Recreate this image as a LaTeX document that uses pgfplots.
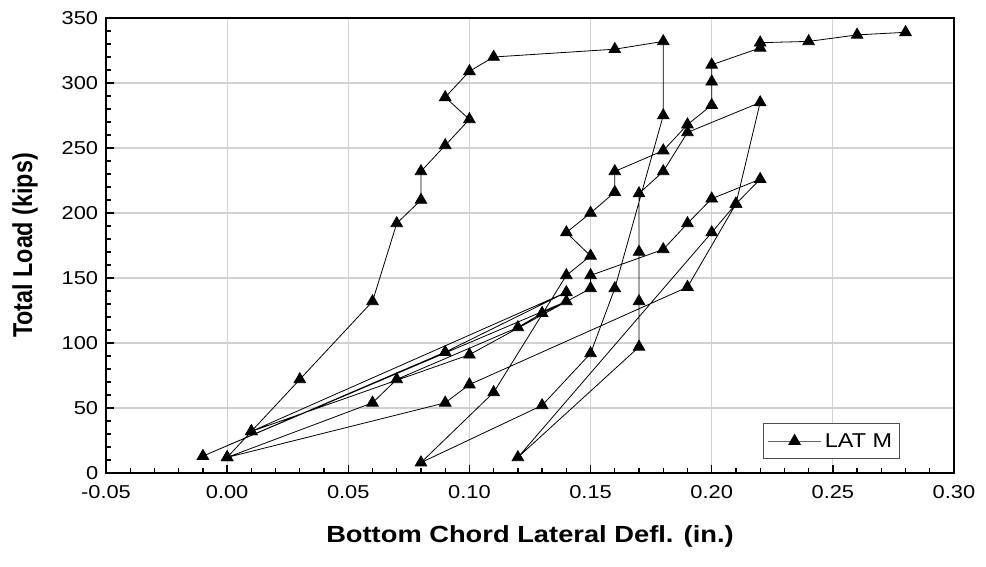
\documentclass[border=0pt]{standalone}
\usepackage{fontspec}
\setmainfont{Liberation Sans}
\usepackage{pgfplots}
\pgfplotsset{compat=1.18}
\begin{document}
\begin{tikzpicture}
\begin{axis}[
  scale only axis,
  width=636pt, height=341.25pt,
  xmin=-0.05, xmax=0.30, ymin=0, ymax=350,
  xtick={-0.05,0,0.05,0.1,0.15,0.2,0.25,0.3},
  ytick={0,50,...,350},
  minor x tick num=4, minor y tick num=4,
  grid=major, grid style={black!18, line width=0.9pt},
  axis line style={line width=1.6pt},
  tick style={black, line width=1pt},
  major tick length=6pt, minor tick length=3.5pt,
  tick align=inside,
  xtick pos=bottom, ytick pos=left,
  /pgf/number format/assume math mode=true,
  ticklabel style={font=\fontsize{14}{16}\selectfont, xscale=1.17},
  xticklabel style={yshift=-6pt, /pgf/number format/.cd, fixed, fixed zerofill, precision=2},
  yticklabel style={xshift=-1.5pt},
  xlabel={Bottom Chord Lateral Defl. (in.)},
  ylabel={Total Load (kips)},
  every axis x label/.style={at={(axis description cs:0.5,-0.14)}, anchor=center, xscale=1.17,
    font=\bfseries\fontsize{17.5}{20}\selectfont},
  every axis y label/.style={at={(axis description cs:-0.0955,0.5)}, anchor=center, xscale=1.17, rotate=90,
    font=\bfseries\fontsize{17.5}{20}\selectfont},
  legend style={at={(0.936,0.031)}, anchor=south east, draw=black!70, line width=0.8pt,
    font=\fontsize{15}{17}\selectfont, inner xsep=3pt, inner ysep=5pt,
    nodes={xscale=1.17, inner xsep=2pt}},
  legend image code/.code={%
    \draw[#1, black!60, line width=0.8pt, mark=none] (0pt,0pt) -- (40pt,0pt);
    \fill[black] (20pt,0pt) +(90:5pt) -- +(210:5pt) -- +(330:5pt) -- cycle;},
]
\addplot[black, line width=0.6pt, mark=triangle*, mark size=5pt, mark options={fill=black, solid}]
coordinates {
(0.00,12) (0.06,54) (0.07,72) (0.12,112) (0.13,123) (0.14,132)
(-0.01,13) (0.09,93) (0.14,139) (0.01,32) (0.10,91) (0.15,142)
(0.15,152) (0.18,172) (0.19,192) (0.20,211) (0.22,226) (0.21,207)
(0.20,185) (0.12,12) (0.17,97) (0.17,132) (0.17,170) (0.17,215)
(0.18,232) (0.19,262) (0.22,285) (0.21,207) (0.19,143) (0.10,68)
(0.09,54) (0.00,12) (0.01,32) (0.03,72) (0.06,132) (0.07,192)
(0.08,210) (0.08,232) (0.09,252) (0.10,272) (0.09,289) (0.10,309)
(0.11,320) (0.16,326) (0.18,332) (0.18,275) (0.16,142) (0.15,92)
(0.13,52) (0.08,8) (0.11,62) (0.14,152) (0.15,167) (0.14,185)
(0.15,200) (0.16,216) (0.16,232) (0.18,248) (0.19,268) (0.20,283)
(0.20,301) (0.20,314) (0.22,327) (0.22,331) (0.24,332) (0.26,337)
(0.28,339)
};
\addlegendentry{LAT M}
\end{axis}
\pgfresetboundingbox
\path ([xshift=-79.5pt,yshift=-70.5pt]current axis.south west) rectangle ([xshift=24pt,yshift=13.5pt]current axis.north east);
\end{tikzpicture}
\end{document}
